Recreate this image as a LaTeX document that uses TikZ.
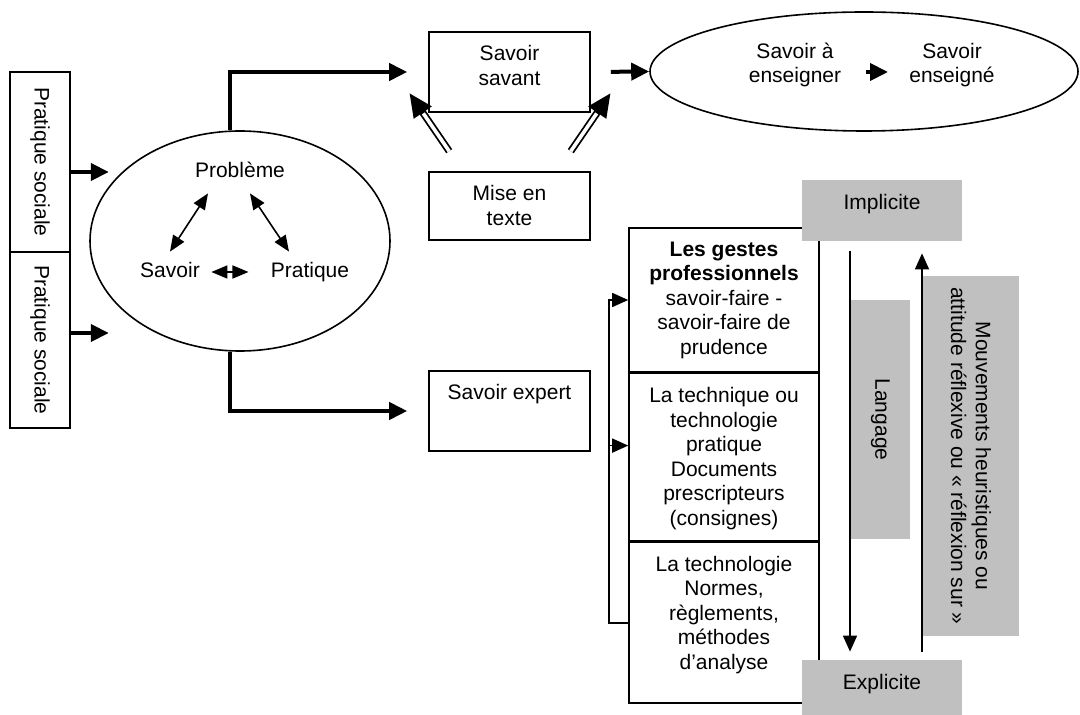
\documentclass[tikz,border=0pt]{standalone}
\usepackage{fontspec}
\setmainfont{Liberation Sans}
\usetikzlibrary{arrows.meta,positioning,shapes.geometric}
\definecolor{greybox}{HTML}{C0C0C0}
\begin{document}
\begin{tikzpicture}[x=0.5pt,y=-0.5pt,font=\fontsize{10.5}{12.3}\selectfont,
	box/.style={draw,line width=0.8pt,inner sep=0pt},
	grey/.style={fill=greybox,inner sep=0pt},
	txt/.style={anchor=north,align=center,inner sep=2pt,yshift=-5pt},
	word/.style={inner sep=2pt,text height=8pt,text depth=2pt},
	bigarrow/.style={line width=2pt,-{Triangle[length=9pt,width=8.5pt]}},
	smallarrow/.style={line width=0.8pt,{Triangle[length=8pt,width=6.5pt]}-{Triangle[length=8pt,width=6.5pt]}},
	thinarrow/.style={line width=0.8pt,-{Triangle[length=8pt,width=7pt]}},
	dblarrow/.style={line width=3.6pt,-{Triangle[length=12pt,width=10pt]},
		postaction={draw,white,line width=1.8pt,shorten >=12.5pt,-}}]
	\useasboundingbox (0,0) rectangle (1080,715);
	% pratique sociale (rotated: north is the right side)
	\node (ps1) at (40,162) [box,rotate=-90,minimum width=90pt,minimum height=30pt]{Pratique sociale};
	\node (ps2) at (40,340) [box,rotate=-90,minimum width=88pt,minimum height=30pt]{Pratique sociale};
	% probleme / savoir / pratique
	\node (pbm) at (240,241) [draw,ellipse,line width=0.8pt,minimum width=150pt,minimum height=110pt]{};
	\node (pb) at (240,172) [word]{Problème};
	\node (sv) at (170,272) [word]{Savoir};
	\node (pr) at (310,272) [word]{Pratique};
	\draw[smallarrow] ([shift={(-16pt,-3.5pt)}]pb.south) -- ([yshift=3pt]sv.north);
	\draw[smallarrow] ([shift={(5pt,-3.5pt)}]pb.south) -- ([shift={(-10.5pt,3pt)}]pr.north);
	\draw[smallarrow] ([xshift=3.6pt]sv.east) -- ([xshift=-9pt]pr.west);
	\draw[bigarrow] ([yshift=-5pt]ps1.north) -- ++(38,0);
	\draw[bigarrow] ([yshift=3.5pt]ps2.north) -- ++(38,0);
	% savoirs
	\node (ss) at (509.5,72) [box,minimum width=80.5pt,minimum height=40pt]{};
	\node at (ss.north) [txt]{Savoir\\savant};
	\node (mt) at (509.5,206) [box,minimum width=80.5pt,minimum height=34pt]{};
	\node at (mt.north) [txt]{Mise en\\texte};
	\node (se) at (509.5,411) [box,minimum width=80.5pt,minimum height=40pt]{};
	\node at (se.north) [txt]{Savoir expert};
	\node (ens) at (864,71.5) [draw,ellipse,line width=0.8pt,minimum width=214pt,minimum height=59.5pt]{};
	\node (sae) at (795,65) [align=center]{Savoir à\\enseigner};
	\node (seg) at (952,65) [align=center]{Savoir\\enseigné};
	\draw[bigarrow] ([shift={(1pt,-0.25pt)}]ens.center) -- ([shift={(12pt,-0.25pt)}]ens.center);
	\draw[bigarrow,shorten >=10.5pt] ([xshift=-5pt]pbm.north) |- (ss.west);
	\draw[bigarrow,shorten >=10.5pt] ([xshift=-5pt]pbm.south) |- (se.west);
	\draw[bigarrow,shorten <=10pt] (ss.east) -- (ens.west);
	\draw[dblarrow] ([shift={(10.5pt,10pt)}]mt.north west) -- ([shift={(-9.5pt,10pt)}]ss.south west);
	\draw[dblarrow] ([shift={(-10pt,10pt)}]mt.north east) -- ([shift={(10pt,10pt)}]ss.south east);
	% gestes
	\node (g1) at (724,300) [box,minimum width=95pt,minimum height=72pt]{};
	\node (g2) [box,minimum width=95pt,minimum height=83.5pt,below=0pt of g1]{};
	\node (g3) [box,minimum width=95pt,minimum height=80.5pt,below=0pt of g2]{};
	\node at (g1.north) [txt]{\textbf{Les gestes}\\\textbf{professionnels}\\savoir-faire -\\savoir-faire de\\prudence};
	\node at (g2.north) [txt]{La technique ou\\technologie\\pratique\\Documents\\prescripteurs\\(consignes)};
	\node at (g3.north) [txt]{La technologie\\Normes,\\règlements,\\méthodes\\d’analyse};
	\draw[thinarrow,{Triangle[length=8pt,width=7pt]}-] (g1.west) -- ++(-9.5pt,0pt) |- (g3.west);
	\draw[thinarrow] ([shift={(-9.5pt,5.75pt)}]g2.west) -- ([yshift=5.75pt]g2.west);
	% implicite / explicite
	\node (imp) at (882,210.5) [grey,minimum width=80pt,minimum height=30.5pt]{};
	\node at (imp.north) [txt]{Implicite};
	\node (exp) at (882,687.5) [grey,minimum width=80pt,minimum height=27.5pt]{};
	\node at (exp.north) [txt]{Explicite};
	\node (lang) at (880.5,419.5) [grey,rotate=-90,minimum width=119.5pt,minimum height=29.5pt]{Langage};
	\node (mouv) at (971,456) [grey,rotate=-90,align=center,minimum width=180pt,minimum height=48pt]{Mouvements heuristiques ou\\attitude réflexive ou « réflexion sur »};
	\draw[thinarrow,shorten <=5pt,shorten >=4pt] ([xshift=-16pt]imp.south) -- ([xshift=-16pt]exp.north);
	\draw[thinarrow,shorten <=4pt,shorten >=6pt] ([xshift=20pt]exp.north) -- ([xshift=20pt]imp.south);
\end{tikzpicture}
\end{document}
